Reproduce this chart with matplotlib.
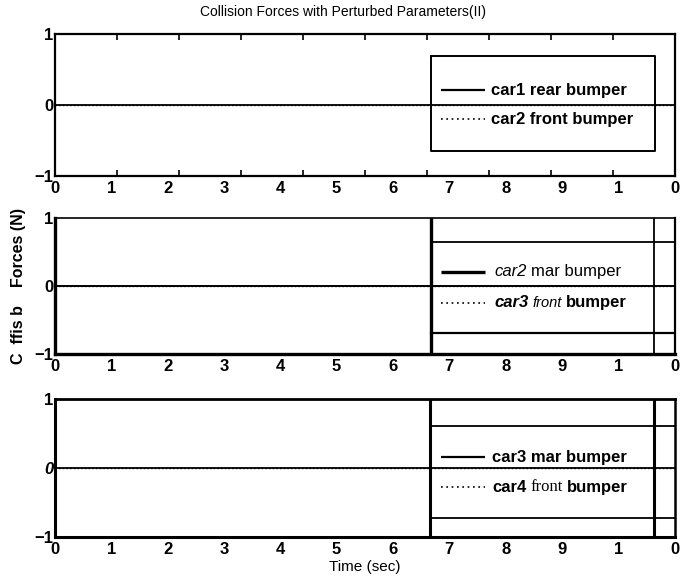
import matplotlib
matplotlib.use("Agg")
import matplotlib.pyplot as plt

# time axis and bumper forces (every force stays flat at zero)
time_s = [0.0, 11.0]
car1_rear = [0.0, 0.0]
car2_front = [0.0, 0.0]
car2_rear = [0.0, 0.0]
car3_front = [0.0, 0.0]
car3_rear = [0.0, 0.0]
car4_front = [0.0, 0.0]

x_ticks = list(range(12))
x_ticklabels = ["0", "1", "2", "3", "4", "5", "6", "7", "8", "9", "1", "0"]
y_ticks = [-1, 0, 1]

title = "Collision Forces with Perturbed Parameters(II)"
ylabel = "C  ffis b    Forces (N)"
xlabel = "Time (sec)"

SANS = ["Liberation Sans", "DejaVu Sans"]
SERIF = ["Liberation Serif", "DejaVu Serif"]

fig = plt.figure(figsize=(6.87, 5.87), dpi=100)
L, R = 0.080, 0.982
ax1 = fig.add_axes([L, 0.700, R - L, 0.242])
ax2 = fig.add_axes([L, 0.397, R - L, 0.232])
ax3 = fig.add_axes([L, 0.085, R - L, 0.235])


def base(ax, zero_style="normal"):
    ax.set_xlim(0, 11)
    ax.set_ylim(-1, 1)
    ax.set_xticks(x_ticks)
    ax.set_xticklabels(x_ticklabels, family=SANS, weight="bold", fontsize=12)
    ax.set_yticks(y_ticks)
    ax.set_yticklabels(["\u22121", "0", "1"], family=SANS, weight="bold", fontsize=12)
    if zero_style == "italic":
        ax.get_yticklabels()[1].set_style("italic")
    ax.tick_params(length=0)
    ax.tick_params(axis="x", pad=3.5)
    ax.tick_params(axis="y", pad=1)


def segments(ax, x, y, parts):
    # chain text pieces with differing styles on one baseline
    s, kw = parts[0]
    prev = ax.text(x, y, s, va="center", ha="left", **kw)
    for s, kw in parts[1:]:
        prev = ax.annotate(s, xy=(1, 0), xycoords=prev, xytext=(3, 0),
                           textcoords="offset points", va="bottom", ha="left", **kw)


def legend_keys(ax, y_solid, y_dot, lw_solid=1.6):
    ax.plot([6.85, 7.63], [y_solid, y_solid], color="black", lw=lw_solid,
            solid_capstyle="butt")
    ax.plot([6.85, 7.63], [y_dot, y_dot], color="black", lw=1.2, ls=(0, (1, 2.2)))


# --- top panel ---
base(ax1)
ax1.plot(time_s, car1_rear, color="black", lw=1.3)
ax1.plot(time_s, car2_front, color="black", lw=1.0, ls=":")
for sp in ax1.spines.values():
    sp.set_linewidth(1.6)
ticks_ax = ax1.twiny()
ticks_ax.set_xlim(0, 10)
ticks_ax.set_xticks(range(1, 10))
ticks_ax.tick_params(direction="in", length=4, width=1.2, top=True, bottom=True,
                     labeltop=False, labelbottom=False)
for sp in ticks_ax.spines.values():
    sp.set_visible(False)
ax1.plot([6.67, 10.66, 10.66, 6.67, 6.67], [0.69, 0.69, -0.65, -0.65, 0.69],
         color="black", lw=1.4)
legend_keys(ax1, 0.21, -0.20)
lbl = dict(family=SANS, weight="bold", fontsize=12)
segments(ax1, 7.74, 0.21, [("car1 rear bumper", lbl)])
segments(ax1, 7.74, -0.20, [("car2 front bumper", lbl)])
fig.text(0.50, 0.979, title, ha="center", va="center", family=SANS, fontsize=10)

# --- middle panel ---
base(ax2)
ax2.plot(time_s, car2_rear, color="black", lw=1.4)
ax2.plot(time_s, car3_front, color="black", lw=1.0, ls=":")
ax2.spines["left"].set_linewidth(2.4)
ax2.spines["bottom"].set_linewidth(2.4)
ax2.spines["top"].set_linewidth(1.2)
ax2.spines["right"].set_linewidth(1.6)
ax2.axvline(6.68, color="black", lw=2.4)
ax2.axvline(10.63, color="black", lw=1.3)
ax2.plot([6.68, 11], [0.65, 0.65], color="black", lw=1.3)
ax2.plot([6.68, 11], [-0.69, -0.69], color="black", lw=1.6)
legend_keys(ax2, 0.21, -0.25, lw_solid=2.4)
segments(ax2, 7.80, 0.21, [("car2", dict(family=SANS, fontsize=12, style="italic")),
                           ("mar bumper", dict(family=SANS, fontsize=12))])
segments(ax2, 7.80, -0.25, [("car3", dict(family=SANS, fontsize=12, style="italic",
                                          weight="bold")),
                            ("front", dict(family=SANS, fontsize=10.5, style="italic")),
                            ("bumper", dict(family=SANS, fontsize=12, weight="bold"))])
ax2.set_ylabel(ylabel, family=SANS, fontsize=11.5, weight="bold", labelpad=6)

# --- bottom panel ---
base(ax3, zero_style="italic")
ax3.plot(time_s, car3_rear, color="black", lw=1.3)
ax3.plot(time_s, car4_front, color="black", lw=1.0, ls=":")
ax3.spines["left"].set_linewidth(2.2)
ax3.spines["bottom"].set_linewidth(2.2)
ax3.spines["top"].set_linewidth(2.0)
ax3.spines["right"].set_linewidth(1.8)
ax3.axvline(6.66, color="black", lw=2.2)
ax3.axvline(10.63, color="black", lw=2.2)
ax3.plot([6.66, 11], [0.61, 0.61], color="black", lw=1.3)
ax3.plot([6.66, 11], [-0.72, -0.72], color="black", lw=1.3)
legend_keys(ax3, 0.16, -0.28)
segments(ax3, 7.76, 0.16, [("car3 mar bumper", dict(family=SANS, fontsize=12,
                                                     weight="bold"))])
segments(ax3, 7.76, -0.28, [("car4", dict(family=SANS, fontsize=12, weight="bold")),
                            ("front", dict(family=SERIF, fontsize=12)),
                            ("bumper", dict(family=SANS, fontsize=12, weight="bold"))])
ax3.set_xlabel(xlabel, family=SANS, fontsize=11, labelpad=2)

fig.savefig("out.png", dpi=100)
